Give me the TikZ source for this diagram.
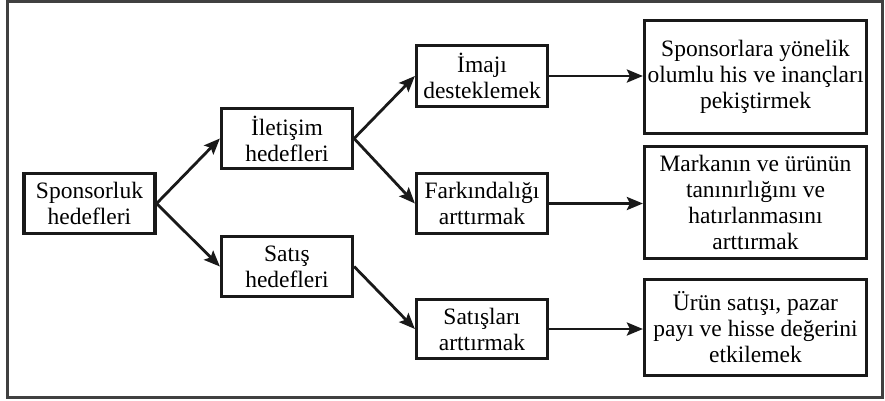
\documentclass[tikz,border=0pt]{standalone}
\usepackage{fontspec}
\setmainfont{Liberation Serif}
\usetikzlibrary{arrows.meta}
\begin{document}
\begin{tikzpicture}[x=1pt,y=-1pt,
  box/.style={draw=black!90, line width=3.2pt, inner sep=0pt, align=center,
    font=\fontsize{23.5}{26}\selectfont, minimum width=#1},
  box/.default=131pt,
  arr/.style={line width=2.8pt, draw=black!90, -{Stealth[length=16pt,width=13pt,inset=3pt]}}]
\useasboundingbox (0,0) rectangle (885,400);
\node[draw=black!75, line width=2.4pt, minimum width=875pt, minimum height=396pt, inner sep=0pt] (frame) at (445,199.5) {};
\node[box, minimum height=60pt] (sp) at (89.5,203.5) {Sponsorluk\\hedefleri};
\node[box, minimum height=60pt] (il) at (287,138.5) {İletişim\\hedefleri};
\node[box, minimum height=60pt] (sa) at (287,266.5) {Satış\\hedefleri};
\node[box, minimum height=61pt] (im) at (482,76) {İmajı\\desteklemek};
\node[box, minimum height=60pt] (fa) at (482,203.5) {Farkındalığı\\arttırmak};
\node[box, minimum height=59pt] (sl) at (482,329) {Satışları\\arttırmak};
\node[box=222pt, minimum height=113pt] (r1) at (755.5,77) {Sponsorlara yönelik\\olumlu his ve inançları\\pekiştirmek};
\node[box=222pt, minimum height=112pt] (r2) at (755.5,202.5) {Markanın ve ürünün\\tanınırlığını ve\\hatırlanmasını\\arttırmak};
\node[box=222pt, minimum height=96pt] (r3) at (755.5,327.5) {Ürün satışı, pazar\\payı ve hisse değerini\\etkilemek};
\draw[arr] (sp.east) -- (il.west);
\draw[arr] (sp.east) -- (sa.west);
\draw[arr] (il.east) -- (im.west);
\draw[arr] (il.east) -- (fa.west);
\draw[arr] (sa.east) -- (sl.west);
\draw[arr] (im.east) -- (im.east -| r1.west);
\draw[arr] (fa.east) -- (fa.east -| r2.west);
\draw[arr] (sl.east) -- (sl.east -| r3.west);
\end{tikzpicture}
\end{document}
